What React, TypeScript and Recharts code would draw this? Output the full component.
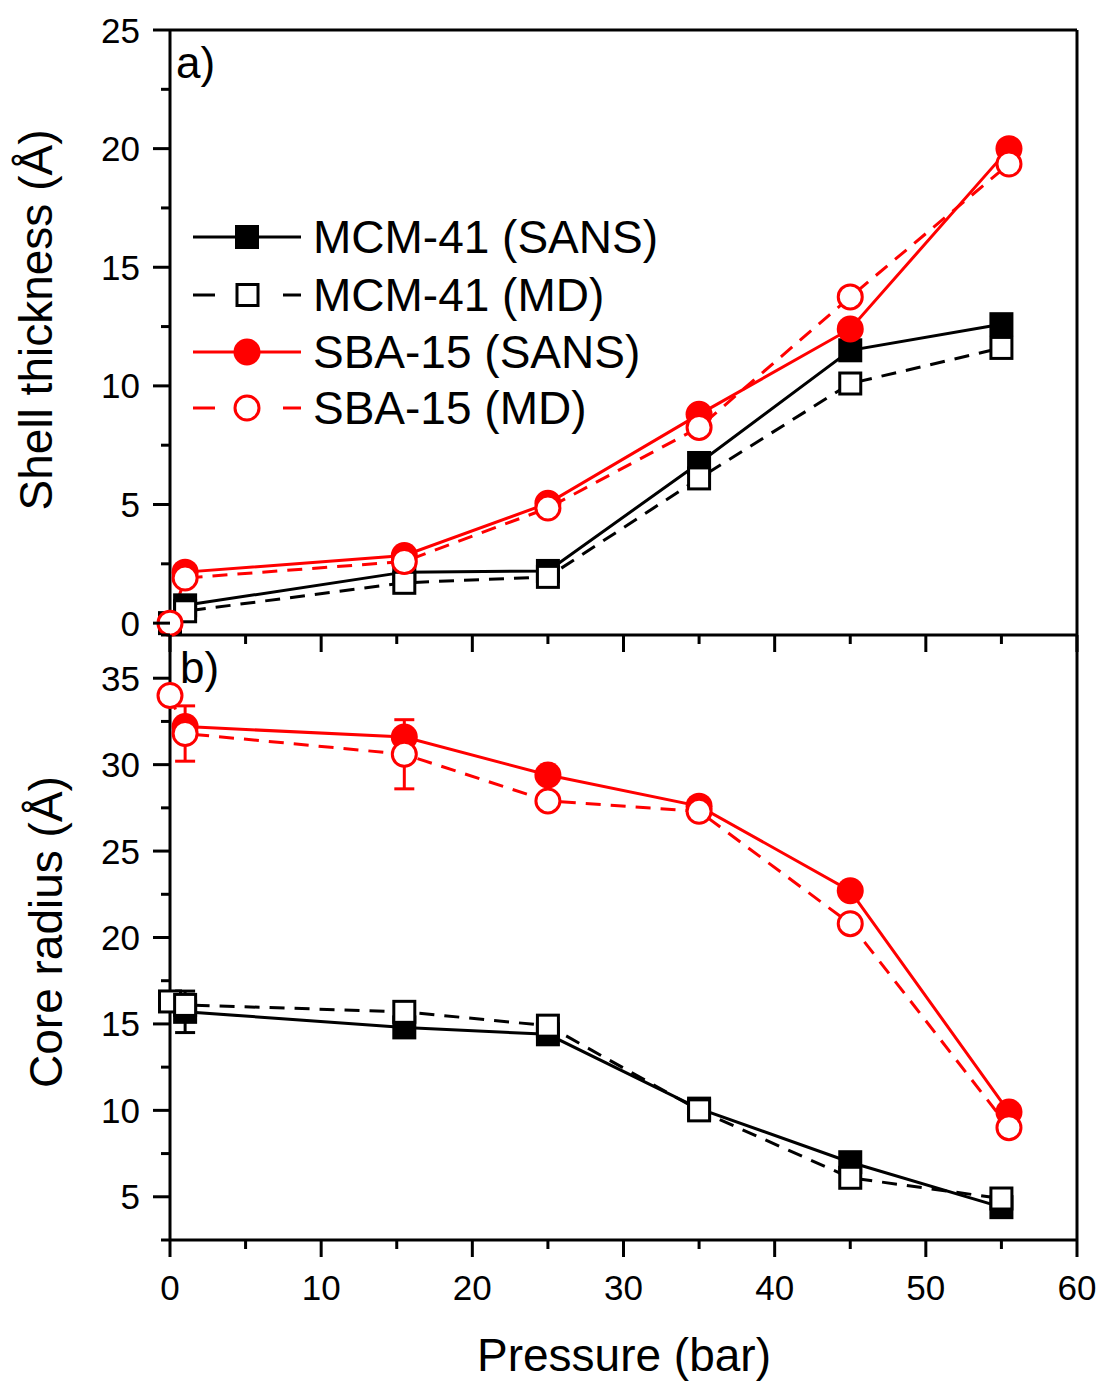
import React from 'react';
import { LineChart, Line, XAxis, YAxis, ReferenceLine, ErrorBar, Legend, Label } from 'recharts';

// pressure (bar) for each series
const pressureMcm = [1, 15.5, 25, 35, 45, 55];
const pressureMcmMd = [0, 1, 15.5, 25, 35, 45, 55];
const pressureSba = [1, 15.5, 25, 35, 45, 55.5];
const pressureSbaMd = [0, 1, 15.5, 25, 35, 45, 55.5];

// a) shell thickness (Å)
const shellMcmSans = [0.75, 2.15, 2.2, 6.75, 11.5, 12.6];
const shellMcmMd = [0, 0.5, 1.7, 1.95, 6.1, 10.1, 11.6];
const shellSbaSans = [2.15, 2.85, 5.05, 8.8, 12.4, 20.0];
const shellSbaMd = [0, 1.9, 2.6, 4.85, 8.25, 13.75, 19.35];

// b) core radius (Å)
const coreMcmSans = [15.7, 14.8, 14.4, 10.1, 7.0, 4.4];
const coreMcmSansErr = [1.2, 0, 0, 0, 0, 0];
const coreMcmMd = [16.3, 16.1, 15.7, 14.9, 10.0, 6.1, 4.9];
const coreSbaSans = [32.2, 31.6, 29.4, 27.6, 22.7, 9.9];
const coreSbaMd = [34.0, 31.8, 30.6, 27.9, 27.3, 20.8, 9.0];
const coreSbaMdErr = [0, 1.6, 2.0, 0, 0, 0, 0];

const xTicks = [0, 5, 10, 15, 20, 25, 30, 35, 40, 45, 50, 55, 60];
const shellTicks = [0, 2.5, 5, 7.5, 10, 12.5, 15, 17.5, 20, 22.5, 25];
const coreTicks = [2.5, 5, 7.5, 10, 12.5, 15, 17.5, 20, 22.5, 25, 27.5, 30, 32.5, 35, 37.5];

const legendNames = ['MCM-41 (SANS)', 'MCM-41 (MD)', 'SBA-15 (SANS)', 'SBA-15 (MD)'];

const RED = '#ff0000';
const FONT = '"Liberation Sans", Arial, sans-serif';
const DASH = '15 10';

const rows = (xs: number[], ys: number[], errs?: number[]) =>
  xs.map((p, i) => ({ p, v: ys[i], err: errs && errs[i] ? errs[i] : undefined }));

const squareDot = (filled: boolean) => (props: any) => {
  const { cx, cy, index } = props;
  if (cx == null || cy == null) return <g key={`s${index}`} />;
  const s = filled ? 24 : 21;
  return (
    <rect key={`s${index}`} x={cx - s / 2} y={cy - s / 2} width={s} height={s}
      fill={filled ? '#000' : '#fff'} stroke="#000" strokeWidth={filled ? 0 : 3} />
  );
};

const circleDot = (filled: boolean) => (props: any) => {
  const { cx, cy, index } = props;
  if (cx == null || cy == null) return <g key={`c${index}`} />;
  return (
    <circle key={`c${index}`} cx={cx} cy={cy} r={filled ? 13.5 : 12}
      fill={filled ? RED : '#fff'} stroke={RED} strokeWidth={filled ? 0 : 3} />
  );
};

const xTick = (showLabel: boolean) => (props: any) => {
  const { x, y, payload } = props;
  const major = payload.value % 10 === 0;
  return (
    <g>
      <line x1={x} x2={x} y1={y} y2={y + (major ? 17 : 9)} stroke="#000" strokeWidth={3} />
      {showLabel && major && (
        <text x={x} y={y + 47} textAnchor="middle" dominantBaseline="central" fontSize={35} fontFamily={FONT} fill="#000">
          {payload.value}
        </text>
      )}
    </g>
  );
};

const yTick = (props: any) => {
  const { x, y, payload } = props;
  const major = payload.value % 5 === 0;
  return (
    <g>
      <line x1={x} x2={x - (major ? 17 : 9)} y1={y} y2={y} stroke="#000" strokeWidth={3} />
      {major && (
        <text x={x - 30} y={y} textAnchor="end" dominantBaseline="central" fontSize={35} fontFamily={FONT} fill="#000">
          {payload.value}
        </text>
      )}
    </g>
  );
};

const yTitle = (title: string, tx: number, ty: number, letter: string, lx: number, ly: number) => () => (
  <g>
    <text x={tx} y={ty} transform={`rotate(-90 ${tx} ${ty})`} textAnchor="middle" dominantBaseline="central"
      fontSize={46} fontFamily={FONT} fill="#000">{title}</text>
    <text x={lx} y={ly} fontSize={44} fontFamily={FONT} fill="#000" dominantBaseline="central">{letter}</text>
  </g>
);

const LegendBox = () => {
  const rowsY = [32, 90, 147, 203];
  return (
    <svg width={500} height={240} style={{ display: 'block' }}>
      {legendNames.map((name, i) => {
        const y = rowsY[i];
        const col = i < 2 ? '#000' : RED;
        const dashed = i % 2 === 1;
        let marker;
        if (i === 0) marker = <rect x={50} y={y - 12} width={24} height={24} fill="#000" />;
        else if (i === 1) marker = <rect x={52} y={y - 10.5} width={21} height={21} fill="#fff" stroke="#000" strokeWidth={3} />;
        else if (i === 2) marker = <circle cx={62} cy={y} r={13.5} fill={RED} />;
        else marker = <circle cx={62} cy={y} r={12} fill="#fff" stroke={RED} strokeWidth={3} />;
        return (
          <g key={name}>
            {dashed ? (
              <>
                <line x1={8} x2={30} y1={y} y2={y} stroke={col} strokeWidth={3} />
                <line x1={98} x2={116} y1={y} y2={y} stroke={col} strokeWidth={3} />
              </>
            ) : (
              <line x1={8} x2={116} y1={y} y2={y} stroke={col} strokeWidth={3} />
            )}
            {marker}
            <text x={128} y={y} dominantBaseline="central" fontSize={46} fontFamily={FONT} fill="#000">{name}</text>
          </g>
        );
      })}
    </svg>
  );
};

export default function App() {
  const axisLine = { stroke: '#000', strokeWidth: 3 };
  return (
    <div style={{ position: 'absolute', left: 0, top: 0, width: 1101, height: 1382, background: '#fff', fontFamily: FONT }}>
      {/* a) shell thickness */}
      <div style={{ position: 'absolute', left: 0, top: 0 }}>
        <LineChart width={1101} height={690} margin={{ top: 30, right: 24, bottom: 0, left: 0 }}>
          <XAxis type="number" dataKey="p" domain={[0, 60]} ticks={xTicks} interval={0} height={55}
            tickSize={0} tickMargin={0} tickLine={false} axisLine={axisLine} tick={xTick(false)} />
          <YAxis type="number" domain={[-0.5, 25]} ticks={shellTicks} interval={0} width={170}
            tickSize={0} tickMargin={0} tickLine={false} axisLine={axisLine} tick={yTick}>
            <Label content={yTitle('Shell thickness (Å)', 36, 320, 'a)', 176, 62)} />
          </YAxis>
          <ReferenceLine y={25} stroke="#000" strokeWidth={3} />
          <ReferenceLine x={60} stroke="#000" strokeWidth={3} />
          <Line data={rows(pressureMcm, shellMcmSans)} dataKey="v" stroke="#000" strokeWidth={3}
            dot={squareDot(true)} isAnimationActive={false} />
          <Line data={rows(pressureMcmMd, shellMcmMd)} dataKey="v" stroke="#000" strokeWidth={3} strokeDasharray={DASH}
            dot={squareDot(false)} isAnimationActive={false} />
          <Line data={rows(pressureSba, shellSbaSans)} dataKey="v" stroke={RED} strokeWidth={3}
            dot={circleDot(true)} isAnimationActive={false} />
          <Line data={rows(pressureSbaMd, shellSbaMd)} dataKey="v" stroke={RED} strokeWidth={3} strokeDasharray={DASH}
            dot={circleDot(false)} isAnimationActive={false} />
          <Legend content={LegendBox} layout="horizontal" verticalAlign="middle" align="center"
            wrapperStyle={{ position: 'absolute', left: 185, top: 205, width: 500, height: 240 }} />
        </LineChart>
      </div>

      {/* b) core radius */}
      <div style={{ position: 'absolute', left: 0, top: 600 }}>
        <LineChart width={1101} height={782} margin={{ top: 35, right: 24, bottom: 0, left: 0 }}>
          <XAxis type="number" dataKey="p" domain={[0, 60]} ticks={xTicks} interval={0} height={142}
            tickSize={0} tickMargin={0} tickLine={false} axisLine={axisLine} tick={xTick(true)}>
            <Label content={() => (
              <text x={624} y={755} textAnchor="middle" dominantBaseline="central" fontSize={46} fontFamily={FONT} fill="#000">
                Pressure (bar)
              </text>
            )} />
          </XAxis>
          <YAxis type="number" domain={[2.5, 37.5]} ticks={coreTicks} interval={0} width={170}
            tickSize={0} tickMargin={0} tickLine={false} axisLine={axisLine} tick={yTick}>
            <Label content={yTitle('Core radius (Å)', 46, 332, 'b)', 180, 67)} />
          </YAxis>
          <ReferenceLine x={60} stroke="#000" strokeWidth={3} />
          <Line data={rows(pressureMcm, coreMcmSans, coreMcmSansErr)} dataKey="v" stroke="#000" strokeWidth={3}
            dot={squareDot(true)} isAnimationActive={false}>
            <ErrorBar dataKey="err" width={10} stroke="#000" strokeWidth={3} direction="y" />
          </Line>
          <Line data={rows(pressureMcmMd, coreMcmMd)} dataKey="v" stroke="#000" strokeWidth={3} strokeDasharray={DASH}
            dot={squareDot(false)} isAnimationActive={false} />
          <Line data={rows(pressureSba, coreSbaSans)} dataKey="v" stroke={RED} strokeWidth={3}
            dot={circleDot(true)} isAnimationActive={false} />
          <Line data={rows(pressureSbaMd, coreSbaMd, coreSbaMdErr)} dataKey="v" stroke={RED} strokeWidth={3} strokeDasharray={DASH}
            dot={circleDot(false)} isAnimationActive={false}>
            <ErrorBar dataKey="err" width={10} stroke={RED} strokeWidth={3} direction="y" />
          </Line>
        </LineChart>
      </div>
    </div>
  );
}
